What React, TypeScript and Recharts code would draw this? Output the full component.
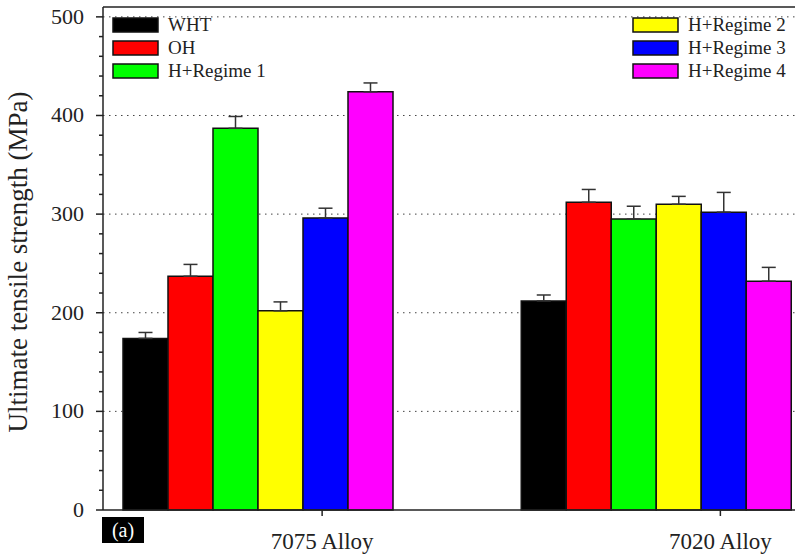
import React from 'react';
import { BarChart, Bar, XAxis, YAxis, CartesianGrid, ErrorBar, ReferenceLine } from 'recharts';

const FONT = '"Liberation Serif", "Times New Roman", serif';
const INK = '#222';

const CATEGORIES = ['7075 Alloy', '7020 Alloy'];
const SERIES = ['WHT', 'OH', 'H+Regime 1', 'H+Regime 2', 'H+Regime 3', 'H+Regime 4'];
const COLORS = ['#000000', '#ff0000', '#00ff00', '#ffff00', '#0000ff', '#ff00ff'];

// mean UTS per alloy
const WHT = [174, 212];
const OH = [237, 312];
const REGIME_1 = [387, 295];
const REGIME_2 = [202, 310];
const REGIME_3 = [296, 302];
const REGIME_4 = [424, 232];

// upper error only
const WHT_ERR = [6, 6];
const OH_ERR = [12, 13];
const REGIME_1_ERR = [12, 13];
const REGIME_2_ERR = [9, 8];
const REGIME_3_ERR = [10, 20];
const REGIME_4_ERR = [9, 14];

const VALUES = [WHT, OH, REGIME_1, REGIME_2, REGIME_3, REGIME_4];
const ERRORS = [WHT_ERR, OH_ERR, REGIME_1_ERR, REGIME_2_ERR, REGIME_3_ERR, REGIME_4_ERR];

const Y_TICKS = [0, 20, 40, 60, 80, 100, 120, 140, 160, 180, 200, 220, 240, 260, 280, 300, 320, 340, 360, 380, 400, 420, 440, 460, 480, 500];
const Y_GRID = [100, 200, 300, 400, 500];

const data = CATEGORIES.map((name, i) => {
  const row: Record<string, any> = { name };
  SERIES.forEach((_, s) => {
    row['s' + s] = VALUES[s][i];
    row['e' + s] = [0, ERRORS[s][i]];
  });
  return row;
});

function YTick(props: any) {
  const { x, y, payload } = props;
  const major = payload.value % 100 === 0;
  return (
    <g>
      <line x1={x - (major ? 7 : 4)} x2={x} y1={y} y2={y} stroke={INK} strokeWidth={1.5} />
      {major && (
        <text x={x - 19} y={y} dy={7} textAnchor="end" fontFamily={FONT} fontSize={22} fill={INK}>
          {payload.value}
        </text>
      )}
    </g>
  );
}

function XTick(props: any) {
  const { x, y, payload } = props;
  const tx = x + 65.5;
  return (
    <g>
      <line x1={tx} x2={tx} y1={y} y2={y + 6} stroke={INK} strokeWidth={1.5} />
      <text x={tx} y={y + 39} textAnchor="middle" fontFamily={FONT} fontSize={23} fill={INK}>
        {payload.value}
      </text>
    </g>
  );
}

const LEGEND_COLS = [
  { x: 113, items: [0, 1, 2] },
  { x: 633, items: [3, 4, 5] },
];
const LEGEND_ROWS = [25, 48, 71];

export default function App() {
  return (
    <div style={{ position: 'absolute', left: 0, top: 0, width: 795, height: 558, overflow: 'hidden', background: '#fff' }}>
      <BarChart
        width={854}
        height={558}
        data={data}
        margin={{ top: 7, right: 0, bottom: 0, left: 0 }}
        barCategoryGap={65.5}
        barGap={0}
      >
        <CartesianGrid horizontal vertical={false} horizontalValues={Y_GRID} stroke="#444" strokeDasharray="1.5 4.5" />
        <YAxis
          type="number"
          domain={[0, 510]}
          ticks={Y_TICKS}
          width={103}
          tickSize={0}
          tickMargin={0}
          tickLine={false}
          tick={<YTick />}
          axisLine={{ stroke: INK, strokeWidth: 1.5 }}
          interval={0}
        />
        <XAxis
          dataKey="name"
          height={48}
          padding={{ left: -45.5, right: 0 }}
          tickSize={0}
          tickMargin={0}
          tickLine={false}
          tick={<XTick />}
          axisLine={{ stroke: INK, strokeWidth: 1.5 }}
        />
        <ReferenceLine y={510} stroke={INK} strokeWidth={1.5} />
        {SERIES.map((name, s) => (
          <Bar key={name} dataKey={'s' + s} name={name} fill={COLORS[s]} stroke="#111" strokeWidth={1.5} isAnimationActive={false}>
            <ErrorBar dataKey={'e' + s} direction="y" width={7} stroke="#333" strokeWidth={1.5} isAnimationActive={false} />
          </Bar>
        ))}
        {LEGEND_COLS.map((col) =>
          col.items.map((s, r) => (
            <g key={SERIES[s]}>
              <rect x={col.x} y={LEGEND_ROWS[r] - 7} width={45} height={14} fill={COLORS[s]} stroke="#111" strokeWidth={1.5} />
              <text x={col.x + 55} y={LEGEND_ROWS[r] + 6} fontFamily={FONT} fontSize={19} fill={INK}>
                {SERIES[s]}
              </text>
            </g>
          ))
        )}
        <text
          x={18}
          y={262}
          transform="rotate(-90 18 262)"
          textAnchor="middle"
          dominantBaseline="central"
          fontFamily={FONT}
          fontSize={27}
          fill={INK}
        >
          Ultimate tensile strength (MPa)
        </text>
        <rect x={102} y={517} width={42} height={26} fill="#000" />
        <text x={123} y={537} textAnchor="middle" fontFamily={FONT} fontSize={20} fill="#fff">
          (a)
        </text>
      </BarChart>
    </div>
  );
}
